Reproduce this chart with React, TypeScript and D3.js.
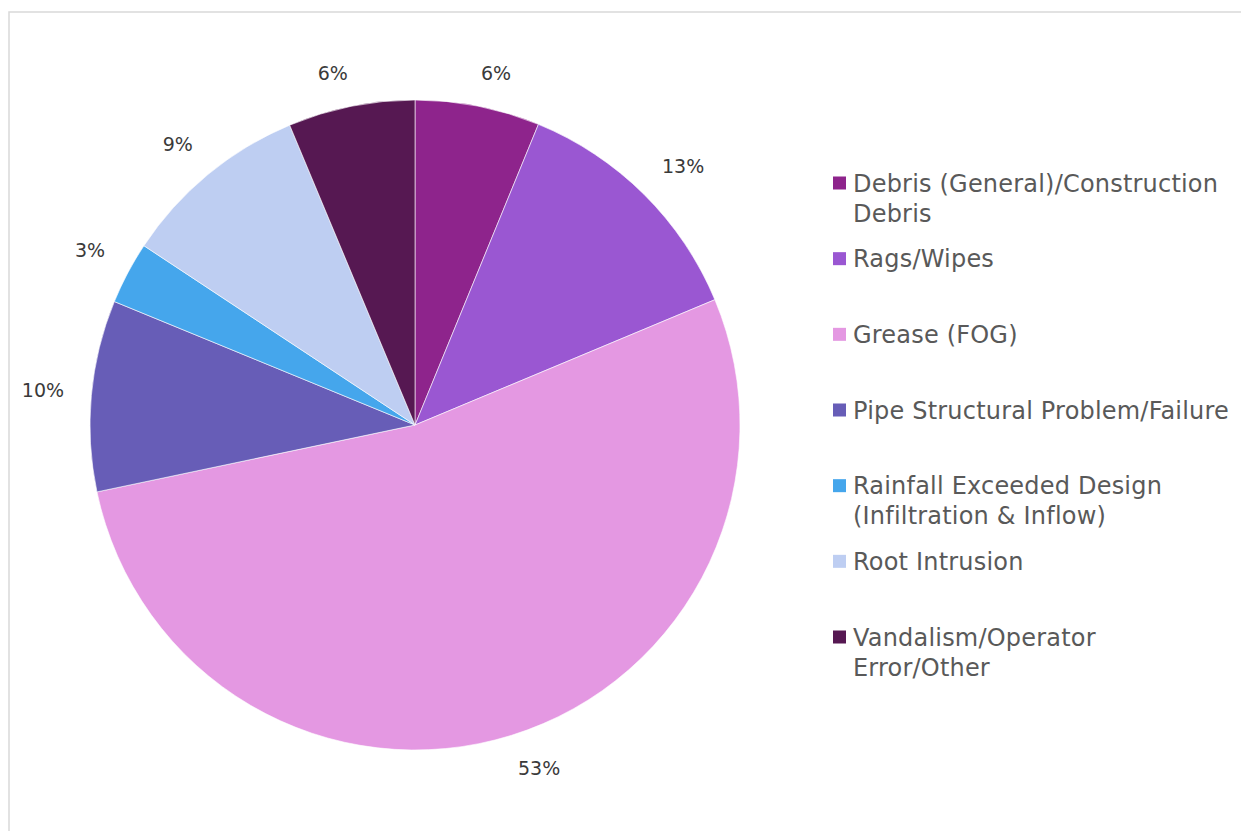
import React from "react";
import * as d3 from "d3";

const categories = [
  "Debris (General)/Construction Debris",
  "Rags/Wipes",
  "Grease (FOG)",
  "Pipe Structural Problem/Failure",
  "Rainfall Exceeded Design (Infiltration & Inflow)",
  "Root Intrusion",
  "Vandalism/Operator Error/Other",
];
const values = [6.2, 12.5, 53.0, 9.5, 3.1, 9.4, 6.3];
const legendLines = [
  ["Debris (General)/Construction", "Debris"],
  ["Rags/Wipes"],
  ["Grease (FOG)"],
  ["Pipe Structural Problem/Failure"],
  ["Rainfall Exceeded Design", "(Infiltration & Inflow)"],
  ["Root Intrusion"],
  ["Vandalism/Operator", "Error/Other"],
];
const colors = ["#8E248C", "#9A57D2", "#E498E2", "#675DB7", "#45A6EC", "#BECEF2", "#561852"];

const W = 1241;
const H = 831;
const CX = 415;
const CY = 425;
const R = 325;
const FONT = "'DejaVu Sans', sans-serif";

export default function App() {
  const total = d3.sum(values);
  const pie = d3.pie<number>().sort(null).value((d) => d);
  const arcs = pie(values);
  const arcGen = d3.arc<d3.PieArcDatum<number>>().innerRadius(0).outerRadius(R);
  const legendY = d3.scaleLinear().domain([0, categories.length - 1]).range([183, 637]);

  const labelFS = 19;
  return (
    <svg width={W} height={H} style={{ position: "absolute", left: 0, top: 0 }}>
      <rect x={9} y={12} width={W + 20} height={H + 20} fill="#fff" stroke="#D9D9D9" strokeWidth={1.5} />
      <g transform={`translate(${CX},${CY})`}>
        {arcs.map((a, i) => (
          <path key={i} d={arcGen(a) || ""} fill={colors[i]} stroke="#fff" strokeWidth={0.6} />
        ))}
        {arcs.map((a, i) => {
          const mid = (a.startAngle + a.endAngle) / 2;
          const ux = Math.sin(mid);
          const uy = -Math.cos(mid);
          const txt = `${Math.round((values[i] / total) * 100)}%`;
          const hw = txt.length * labelFS * 0.36;
          const h = 20;
          const rr = R + 22 + 6 * Math.abs(ux);
          const ox = Math.abs(ux) > 0.1 ? Math.sign(ux) * hw : ux * 10 * hw;
          const oy = Math.sign(uy) * (h / 2) * Math.min(1, Math.abs(uy) / 0.3);
          const x = rr * ux + ox;
          const y = rr * uy + oy;
          return (
            <text key={i} x={x} y={y} dy="0.35em" textAnchor="middle" fontFamily={FONT} fontSize={labelFS} fill="#3A3A3A">
              {txt}
            </text>
          );
        })}
      </g>
      <g>
        {categories.map((c, i) => {
          const y = legendY(i);
          return (
            <g key={c}>
              <rect x={833} y={y - 6.5} width={13} height={13} fill={colors[i]} />
              {legendLines[i].map((ln, j) => (
                <text key={j} x={853} y={y + j * 30} dy="0.36em" fontFamily={FONT} fontSize={24} letterSpacing={0.2} fill="#595959">
                  {ln}
                </text>
              ))}
            </g>
          );
        })}
      </g>
    </svg>
  );
}
